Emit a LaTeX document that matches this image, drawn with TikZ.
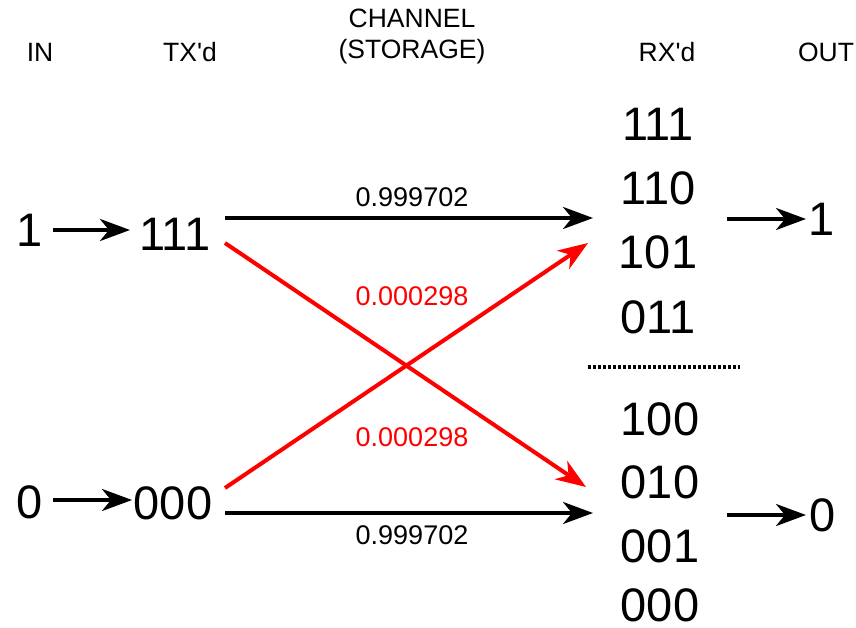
\documentclass[tikz,border=0pt]{standalone}
\usepackage{fontspec}
\setmainfont{Liberation Sans}
\usetikzlibrary{arrows.meta}
\begin{document}
\begin{tikzpicture}[x=1pt,y=-1pt,
  hdr/.style={font=\fontsize{26.5}{31}\selectfont, align=center, inner sep=0pt},
  big/.style={font=\fontsize{47}{50}\selectfont, inner sep=0pt},
  lbl/.style={font=\fontsize{27}{30}\selectfont, inner sep=0pt},
  arr/.style={line width=4pt, -{Stealth[length=30pt,width=22pt,inset=9pt]}},
  redarr/.style={arr, red},
]
\useasboundingbox (0,0) rectangle (856,628);
% headers
\node[hdr] (hin) at (40,52) {IN};
\node[hdr] (htx) at (190,52) {TX\textquotesingle d};
\node[hdr] (hch) at (412,36) {CHANNEL\\(STORAGE)};
\node[hdr] (hrx) at (667,52) {RX\textquotesingle d};
\node[hdr] (hout) at (826,52) {OUT};
% inputs
\node[big] (in1) at (30,230) {1};
\node[big] (in0) at (30,502) {0};
\node[big] (tx1) at (175,234) {111};
\node[big] (tx0) at (173,503) {000};
\coordinate (a1s) at (53,230);
\coordinate (a1e) at (130,230);
\draw[arr] (a1s) -- (a1e);
\coordinate (a0s) at (53,500);
\coordinate (a0e) at (132,500);
\draw[arr] (a0s) -- (a0e);
% RX column
\node[big] (r111) at (658,124) {111};
\node[big] (r110) at (658,188) {110};
\node[big] (r101) at (658,252) {101};
\node[big] (r011) at (658,317) {011};
\node[big] (r100) at (660,419) {100};
\node[big] (r010) at (660,482) {010};
\node[big] (r001) at (660,546) {001};
\node[big] (r000) at (660,605) {000};
\coordinate (dl) at (588,367);
\coordinate (dr) at (740,367);
\draw[line width=3.5pt, dash pattern=on 3pt off 2pt] (dl) -- (dr);
% channel arrows
\coordinate (c1s) at (225,218);
\coordinate (c1e) at (593,218);
\coordinate (c0s) at (225,513);
\coordinate (c0e) at (593,513);
\coordinate (r1s) at (225,243);
\coordinate (r1e) at (586,487);
\coordinate (r0s) at (225,488);
\coordinate (r0e) at (588,243);
\draw[arr] (c1s) -- (c1e);
\draw[arr] (c0s) -- (c0e);
\draw[redarr] (r1s) -- (r1e);
\draw[redarr] (r0s) -- (r0e);
\node[lbl] (p11) at (412,197) {0.999702};
\node[lbl] (p00) at (412,535) {0.999702};
\node[lbl, text=red] (p10) at (412,296) {0.000298};
\node[lbl, text=red] (p01) at (412,437) {0.000298};
% outputs
\node[big] (o1) at (822,219) {1};
\node[big] (o0) at (823,515) {0};
\coordinate (o1s) at (727,219);
\coordinate (o1e) at (806,219);
\coordinate (o0s) at (727,515);
\coordinate (o0e) at (806,515);
\draw[arr] (o1s) -- (o1e);
\draw[arr] (o0s) -- (o0e);
\end{tikzpicture}
\end{document}
